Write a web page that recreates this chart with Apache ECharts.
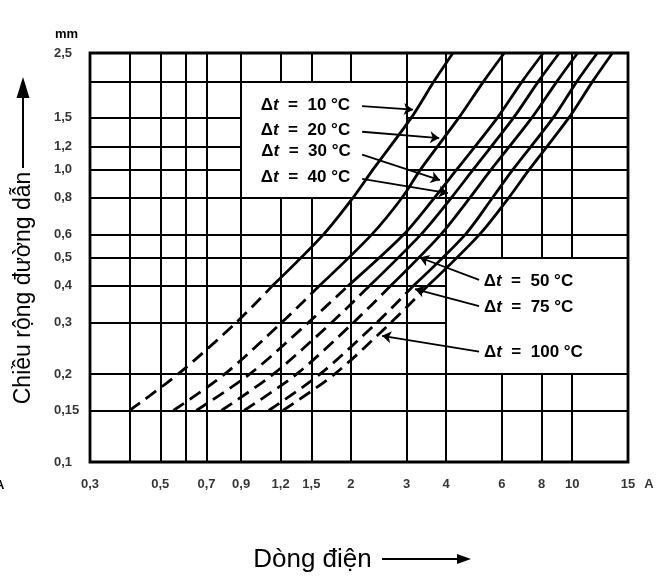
<!DOCTYPE html>
<html><head><meta charset="utf-8">
<script src="https://cdn.jsdelivr.net/npm/echarts@6/dist/echarts.min.js"></script>
<style>html,body{margin:0;padding:0;background:#fff}#c{width:666px;height:576px}</style>
</head><body><div id="c"></div>
<script>
// conductor width levels (mm) at which each curve's current (A) was read
const widthLevels = [0.15, 0.2, 0.3, 0.4, 0.6, 0.8, 1.0, 1.5, 2.0, 2.5];
const cur10  = [0.40, 0.57, 0.87, 1.13, 1.64, 2.03, 2.35, 3.10, 3.66, 4.20];
const cur20  = [0.55, 0.80, 1.21, 1.59, 2.33, 2.90, 3.32, 4.38, 5.25, 6.10];
const cur30  = [0.65, 0.96, 1.47, 1.96, 2.94, 3.67, 4.32, 5.80, 6.95, 8.10];
const cur40  = [0.78, 1.14, 1.74, 2.29, 3.33, 4.15, 4.87, 6.52, 7.82, 9.10];
const cur50  = [0.92, 1.35, 2.04, 2.67, 3.85, 4.75, 5.55, 7.45, 8.95, 10.4];
const cur75  = [1.10, 1.60, 2.42, 3.15, 4.60, 5.60, 6.50, 8.70, 10.35, 12.0];
const cur100 = [1.22, 1.78, 2.68, 3.50, 5.10, 6.30, 7.32, 9.75, 11.6, 13.4];
const tempRises = ['10', '20', '30', '40', '50', '75', '100'];
const curves = [cur10, cur20, cur30, cur40, cur50, cur75, cur100];

// axis ticks / grid
const xGridValues = [0.4, 0.5, 0.6, 0.7, 0.9, 1.2, 1.5, 2, 3, 4, 6, 8, 10];
const yGridValues = [0.15, 0.2, 0.3, 0.4, 0.5, 0.6, 0.8, 1.0, 1.2, 1.5, 2.0];
const xTickLabels = [0.3, 0.5, 0.7, 0.9, 1.2, 1.5, 2, 3, 4, 6, 8, 10, 15];
const yTickLabels = [0.1, 0.15, 0.2, 0.3, 0.4, 0.5, 0.6, 0.8, 1.0, 1.2, 1.5, 2.5];
const xRange = [0.3, 15];
const yRange = [0.1, 2.5];
// grid-free areas holding the annotations: [xFrom, xTo, yFrom, yTo]
const blankBoxes = [[0.9, 3, 0.8, 2.0], [4, 15, 0.2, 0.5]];
// annotation arrows: label anchor -> curve point
const arrowFrom = [[2.17, 1.647], [2.17, 1.345], [2.17, 1.123], [2.17, 0.928], [5.08, 0.419], [5.08, 0.341], [5.08, 0.2385]];
const arrowTo   = [[3.14, 1.60], [3.80, 1.28], [3.82, 0.92], [4.05, 0.83], [3.30, 0.50], [3.19, 0.39], [2.51, 0.27]];
const labelGap  = [12, 12, 12, 12, 5, 5, 5];
const dashUntilLevel = 0.4;

const FONT = '"Liberation Sans", Arial, sans-serif';
const fmtNum = v => {
  const r = parseFloat(Number(v).toFixed(2));
  if (r === 1) return '1,0';
  return String(r).replace('.', ',');
};

// grid segments (skip the interior of blank boxes)
const gridSegs = [];
function splitRange(lo, hi, cuts) {
  let parts = [[lo, hi]];
  cuts.forEach(([a, b]) => {
    const next = [];
    parts.forEach(([p, q]) => {
      if (b <= p || a >= q) { next.push([p, q]); return; }
      if (a > p) next.push([p, a]);
      if (b < q) next.push([b, q]);
    });
    parts = next;
  });
  return parts;
}
xGridValues.forEach(v => {
  const cuts = blankBoxes.filter(b => v > b[0] && v < b[1]).map(b => [b[2], b[3]]);
  splitRange(yRange[0], yRange[1], cuts).forEach(([a, b]) => gridSegs.push({coords: [[v, a], [v, b]]}));
});
yGridValues.forEach(v => {
  const cuts = blankBoxes.filter(b => v > b[2] && v < b[3]).map(b => [b[0], b[1]]);
  splitRange(xRange[0], xRange[1], cuts).forEach(([a, b]) => gridSegs.push({coords: [[a, v], [b, v]]}));
});

const series = [{
  type: 'lines', coordinateSystem: 'cartesian2d', z: 1, silent: true,
  lineStyle: {color: '#000', width: 2, opacity: 1},
  data: gridSegs
}];

const dashIdx = widthLevels.indexOf(dashUntilLevel);
curves.forEach((cur, k) => {
  const pts = widthLevels.map((w, i) => [cur[i], w]);
  series.push({
    type: 'line', z: 3, symbol: 'none', smooth: 0.3, silent: true,
    data: pts.slice(0, dashIdx + 1),
    lineStyle: {color: '#000', width: 2.8, type: [13, 7]}
  });
  series.push({
    type: 'line', z: 3, symbol: 'none', smooth: 0.3, silent: true,
    data: pts.slice(dashIdx),
    lineStyle: {color: '#000', width: 2.8}
  });
});

series.push({
  type: 'lines', coordinateSystem: 'cartesian2d', z: 4, silent: true,
  symbol: ['none', 'arrow'], symbolSize: [0, 9],
  lineStyle: {color: '#000', width: 1.8, opacity: 1},
  label: {
    show: true, position: 'start', distance: 8,
    formatter: p => '{d|Δ}{t|t}{d|  =  ' + p.name + ' °C}',
    rich: {
      d: {fontFamily: FONT, fontSize: 17, fontWeight: 'bold', color: '#000'},
      t: {fontFamily: FONT, fontSize: 17, fontWeight: 'bold', fontStyle: 'italic', color: '#000'}
    }
  },
  data: tempRises.map((t, i) => ({name: t, coords: [arrowFrom[i], arrowTo[i]], label: {distance: labelGap[i]}}))
});

// tick labels
const labelStyle = {fontFamily: FONT, fontWeight: 'bold', fontSize: 13, color: '#000'};
series.push({
  type: 'scatter', z: 5, symbolSize: 0, silent: true, clip: false,
  data: xTickLabels.map(v => [v, yRange[0]]),
  label: Object.assign({show: true, position: 'bottom', distance: 16, formatter: p => fmtNum(p.value[0])}, labelStyle)
});
series.push({
  type: 'scatter', z: 5, symbolSize: 0, silent: true, clip: false,
  data: [[xRange[1], yRange[0]]],
  label: Object.assign({show: true, position: 'bottom', distance: 16, offset: [21, 0], formatter: 'A'}, labelStyle)
});
series.push({
  type: 'scatter', z: 5, symbolSize: 0, silent: true, clip: false,
  data: yTickLabels.map(v => [xRange[0], v]),
  label: Object.assign({show: true, position: 'left', distance: 0, align: 'left', offset: [-36, 0],
    formatter: p => fmtNum(p.value[1])}, labelStyle)
});

const chart = echarts.init(document.getElementById('c'), null, {renderer: 'canvas'});
chart.setOption({
  animation: false,
  backgroundColor: '#fff',
  grid: {left: 90, right: 38, top: 53, bottom: 114, show: true, borderColor: '#000', borderWidth: 2.8, backgroundColor: '#fff'},
  xAxis: {
    type: 'log', logBase: 10, min: xRange[0], max: xRange[1],
    axisLine: {show: false}, axisTick: {show: false}, axisLabel: {show: false}, splitLine: {show: false}
  },
  yAxis: {
    type: 'log', logBase: 10, min: yRange[0], max: yRange[1],
    axisLine: {show: false}, axisTick: {show: false}, axisLabel: {show: false}, splitLine: {show: false},
    name: 'mm', nameLocation: 'end', nameGap: 12,
    nameTextStyle: {fontFamily: FONT, fontWeight: 'bold', fontSize: 13, color: '#000', align: 'right', padding: [0, 12, 0, 0]}
  },
  graphic: [
    {type: 'text', x: 24, y: 288, rotation: Math.PI / 2,
      style: {text: 'Chiều rộng đường dẫn', font: '23px ' + FONT, fill: '#000', align: 'center', verticalAlign: 'middle'}},
    {type: 'line', shape: {x1: 23, y1: 168, x2: 23, y2: 95}, style: {stroke: '#000', lineWidth: 2}},
    {type: 'polygon', shape: {points: [[16.5, 98], [29.5, 98], [23, 77]]}, style: {fill: '#000'}},
    {type: 'text', x: 312.5, y: 560,
      style: {text: 'Dòng điện', font: '26px ' + FONT, fill: '#000', align: 'center', verticalAlign: 'middle'}},
    {type: 'line', shape: {x1: 382, y1: 559, x2: 460, y2: 559}, style: {stroke: '#000', lineWidth: 2}},
    {type: 'polygon', shape: {points: [[457, 554], [457, 564], [471, 559]]}, style: {fill: '#000'}},
    {type: 'text', x: -5, y: 485,
      style: {text: 'A', font: 'bold 13px ' + FONT, fill: '#000', align: 'left', verticalAlign: 'middle'}}
  ],
  series: series
});
</script>
</body></html>
